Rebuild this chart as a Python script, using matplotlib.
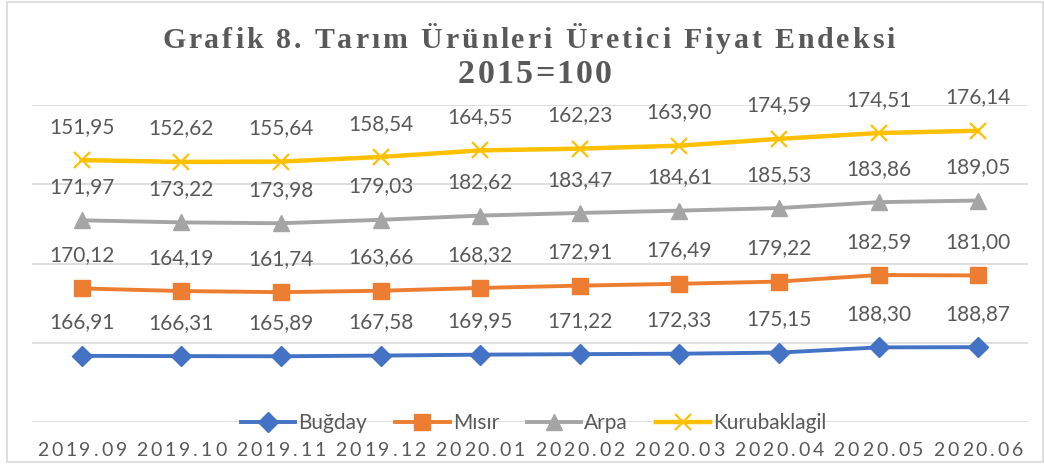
import matplotlib
matplotlib.use('Agg')
import matplotlib.pyplot as plt
import matplotlib.transforms as mtransforms
from matplotlib.patches import Rectangle
import numpy as np

# ---- data ----
months = ['2019.09', '2019.10', '2019.11', '2019.12', '2020.01',
          '2020.02', '2020.03', '2020.04', '2020.05', '2020.06']
bugday = [166.91, 166.31, 165.89, 167.58, 169.95, 171.22, 172.33, 175.15, 188.30, 188.87]
misir = [170.12, 164.19, 161.74, 163.66, 168.32, 172.91, 176.49, 179.22, 182.59, 181.00]
arpa = [171.97, 173.22, 173.98, 179.03, 182.62, 183.47, 184.61, 185.53, 183.86, 189.05]
kurubaklagil = [151.95, 152.62, 155.64, 158.54, 164.55, 162.23, 163.90, 174.59, 174.51, 176.14]
series_names = ['Buğday', 'Mısır', 'Arpa', 'Kurubaklagil']
title_line1 = 'Grafik 8. Tarım Ürünleri Üretici Fiyat Endeksi'
title_line2 = '2015=100'

W, H = 1044, 467
fig = plt.figure(figsize=(W / 100, H / 100), dpi=100)
fig.patch.set_facecolor('white')
TXT = '#595959'
GRID = '#D9D9D9'

ax = fig.add_axes([32 / W, 1 - 422 / H, (1028 - 32) / W, (422 - 105) / H])
ax.set_xlim(-0.5, len(months) - 0.5)
ax.set_ylim(0, 800)
ax.set_yticks(np.arange(0, 801, 200))
ax.set_xticks(range(len(months)))
ax.tick_params(left=False, bottom=False, labelleft=False, labelbottom=False)
for s in ax.spines.values():
    s.set_visible(False)
ax.grid(axis='y', color=GRID, lw=1.2)
ax.set_axisbelow(True)

styles = [
    dict(color='#4472C4', marker='D', ms=10, lw=2.8),
    dict(color='#ED7D31', marker='s', ms=11, lw=2.8),
    dict(color='#A5A5A5', marker='^', ms=12, lw=2.8),
    dict(color='#FFC000', marker='x', ms=12, lw=3.2, mew=1.6),
]
data = np.array([bugday, misir, arpa, kurubaklagil])
cum = np.cumsum(data, axis=0)
x = np.arange(len(months))
handles = []
for i, (name, st) in enumerate(zip(series_names, styles)):
    h, = ax.plot(x, cum[i], label=name, zorder=3, **st)
    handles.append(h)
    for xi, yi, v in zip(x, cum[i], data[i]):
        ax.annotate(f'{v:.2f}'.replace('.', ','), (xi, yi), xytext=(0, 24),
                    textcoords='offset points', ha='center', va='center',
                    fontsize=15, family='Lato', color=TXT)

fig.legend(handles=handles, loc='center', ncol=4, frameon=False,
           bbox_to_anchor=(534 / W, 1 - 423 / H), prop={'family': 'Lato', 'size': 15},
           labelcolor=TXT, handlelength=2.6, handletextpad=0.15, columnspacing=1.35,
           borderpad=0)

renderer = fig.canvas.get_renderer()
ident = mtransforms.IdentityTransform()


def text_width(s, **kw):
    t = fig.text(0, 0, s, transform=ident, **kw)
    w = t.get_window_extent(renderer).width
    t.remove()
    return w


def spaced(x0, x1, y_base_top, s, **kw):
    """draw s with letter spacing between pixel x0..x1, baseline at y (from top)"""
    bar = text_width('||', **kw)
    widths = [text_width('|' + ch + '|', **kw) - bar for ch in s]
    gap = ((x1 - x0) - sum(widths)) / (len(s) - 1)
    xp = x0
    for ch, w in zip(s, widths):
        fig.text(xp, H - y_base_top, ch, transform=ident, ha='left', va='baseline', **kw)
        xp += w + gap


tkw = dict(family='Liberation Serif', weight='bold', fontsize=21.5, color=TXT)
spaced(162, 895, 48, title_line1, **tkw)
spaced(458, 612, 83, title_line2, **dict(tkw, fontsize=24.5))

lkw = dict(family='Lato', fontsize=14, color=TXT)
for i, m in enumerate(months):
    xc = ax.transData.transform((i, 0))[0]
    spaced(xc - 45, xc + 45, 456, m, **lkw)

fig.add_artist(Rectangle((7 / W, 1 - 462 / H), (1043 - 7) / W, (462 - 2) / H,
                         transform=fig.transFigure, fill=False, ec=GRID, lw=1.2))

fig.savefig('out.png', dpi=100)
